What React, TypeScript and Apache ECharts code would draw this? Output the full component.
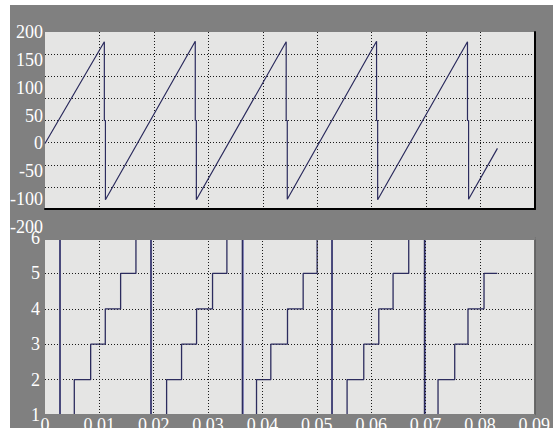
import React, { useEffect, useRef } from "react";
import * as echarts from "echarts";

// ---- data ----
// top panel: phase angle (degrees) – ramps that wrap from about +180 to about -180
const angleStartTime = 0;
const angleStartValue = -52;
const wrapTimes = [0.0109, 0.0276, 0.0443, 0.0609, 0.0776];
const wrapPeaks = [178, 179, 178, 179, 178];
const wrapTroughs = [-179, -179, -178, -179, -178];
const wrapMidValue = 0; // the drop pauses briefly at 0
const wrapGap = 0.0002;
const angleEndTime = 0.0831;
const angleEndValue = -63;

// bottom panel: sector number 1..6
const sectorStartValue = 6;
const sectorResetTimes = [0.00276, 0.0195, 0.0363, 0.0528, 0.0698];
const sectorStepTimes = [
  [0.00539, 0.0084, 0.01109, 0.01391, 0.01673],
  [0.02237, 0.02512, 0.02788, 0.03082, 0.03346],
  [0.03891, 0.04154, 0.04461, 0.04749, 0.05006],
  [0.05557, 0.05864, 0.0614, 0.06403, 0.06691],
  [0.0723, 0.07537, 0.07781, 0.08076],
];
const sectorEndTime = 0.0832;

// tick labels
const xTickLabels = ["0", "0.01", "0.02", "0.03", "0.04", "0.05", "0.06", "0.07", "0.08", "0.09"];
const topTickLabels = ["200", "150", "100", "50", "0", "-50", "-100", "-200"];
const bottomTickLabels = ["1", "2", "3", "4", "5", "6"];

function buildAngle(): number[][] {
  const pts: number[][] = [[angleStartTime, angleStartValue]];
  wrapTimes.forEach((t, i) => {
    pts.push([t, wrapPeaks[i]]);
    pts.push([t, wrapMidValue]);
    pts.push([t + wrapGap, wrapMidValue]);
    pts.push([t + wrapGap, wrapTroughs[i]]);
  });
  pts.push([angleEndTime, angleEndValue]);
  return pts;
}

function buildSector(): number[][] {
  const pts: number[][] = [[0, sectorStartValue]];
  let level = sectorStartValue;
  sectorResetTimes.forEach((r, c) => {
    pts.push([r, level]);
    level = 1;
    pts.push([r, level]);
    sectorStepTimes[c].forEach((s) => {
      pts.push([s, level]);
      level += 1;
      pts.push([s, level]);
    });
  });
  pts.push([sectorEndTime, level]);
  return pts;
}

export default function App() {
  const ref = useRef<HTMLDivElement>(null);
  useEffect(() => {
    if (!ref.current) return;
    const chart = echarts.init(ref.current, null, { renderer: "svg" });
    const font = "'Liberation Serif', 'Times New Roman', 'DejaVu Serif', serif";
    const dotted = { color: "#1a1a1a", width: 1, type: [1, 2] as any };
    const lineColor = "#2c2c5e";
    const panelBg = "#e5e5e4";
    const gray = "#808080";
    const W = 553;
    const H = 437;
    const gridLeft = 45;
    const gridWidth = 490;
    const topTop = 32;
    const panelH = 177;
    const botTop = 238;

    chart.setOption({
      animation: false,
      backgroundColor: gray,
      graphic: [
        { type: "rect", z: 100, shape: { x: 0, y: 0, width: W, height: 5 }, style: { fill: "#ffffff" } },
        { type: "rect", z: 100, shape: { x: 0, y: 0, width: 10, height: H }, style: { fill: "#ffffff" } },
        { type: "rect", z: 100, shape: { x: 0, y: 428, width: W, height: 9 }, style: { fill: "#ffffff" } },
      ],
      grid: [
        { left: gridLeft, top: topTop, width: gridWidth, height: panelH, show: true, backgroundColor: panelBg, borderWidth: 0 },
        { left: gridLeft, top: botTop, width: gridWidth, height: panelH, show: true, backgroundColor: panelBg, borderWidth: 0 },
        { left: gridLeft, top: topTop, width: gridWidth, height: 195, show: false },
      ],
      xAxis: [
        {
          gridIndex: 0, type: "value", min: 0, max: 0.09, interval: 0.01,
          axisLabel: { show: false }, axisTick: { show: false },
          axisLine: { show: true, onZero: false, lineStyle: { color: "#000", width: 2 } },
          splitLine: { show: true, showMinLine: false, showMaxLine: false, lineStyle: dotted },
        },
        {
          gridIndex: 1, type: "value", min: 0, max: 0.09, interval: 0.01, z: 10,
          axisTick: { show: false },
          axisLine: { show: true, onZero: false, lineStyle: { color: gray, width: 3 } },
          splitLine: { show: true, showMinLine: false, showMaxLine: false, lineStyle: dotted },
          axisLabel: {
            show: true, margin: 1, color: "#ffffff", fontFamily: font, fontSize: 18,
            showMinLabel: true, showMaxLabel: true,
            formatter: (v: number) => xTickLabels[Math.round(v / 0.01)] ?? "",
          },
        },
        { gridIndex: 2, type: "value", min: 0, max: 1, show: false },
        {
          gridIndex: 1, type: "value", position: "top", min: 0, max: 0.09, z: 10,
          axisLabel: { show: false }, axisTick: { show: false }, splitLine: { show: false },
          axisLine: { show: true, onZero: false, lineStyle: { color: gray, width: 3 } },
        },
      ],
      yAxis: [
        {
          gridIndex: 0, type: "value", min: -200, max: 200, interval: 50,
          axisLabel: { show: false }, axisTick: { show: false }, axisLine: { show: false, onZero: false },
          splitLine: { show: true, showMinLine: false, showMaxLine: false, lineStyle: dotted },
        },
        {
          gridIndex: 1, type: "value", min: 1, max: 6, interval: 1,
          axisTick: { show: false }, axisLine: { show: false, onZero: false },
          splitLine: { show: true, showMinLine: false, showMaxLine: false, lineStyle: dotted },
          axisLabel: {
            show: true, margin: 5, color: "#ffffff", fontFamily: font, fontSize: 18,
            showMinLabel: true, showMaxLabel: true,
            formatter: (v: number) => bottomTickLabels[Math.round(v) - 1] ?? "",
          },
        },
        {
          gridIndex: 2, type: "category", data: topTickLabels, inverse: true, boundaryGap: false,
          axisTick: { show: false }, axisLine: { show: false, onZero: false }, splitLine: { show: false },
          axisLabel: { show: true, interval: 0, margin: 2, color: "#ffffff", fontFamily: font, fontSize: 18 },
        },
        {
          gridIndex: 0, type: "value", position: "right", min: -200, max: 200,
          axisLabel: { show: false }, axisTick: { show: false }, splitLine: { show: false },
          axisLine: { show: true, onZero: false, lineStyle: { color: "#000", width: 2 } },
        },
        {
          gridIndex: 1, type: "value", position: "right", min: 1, max: 6,
          axisLabel: { show: false }, axisTick: { show: false }, splitLine: { show: false },
          axisLine: { show: true, onZero: false, lineStyle: { color: "#5a5a5a", width: 1.5 } },
        },
      ],
      series: [
        {
          type: "line", xAxisIndex: 0, yAxisIndex: 0, data: buildAngle(),
          showSymbol: false, clip: true,
          lineStyle: { color: lineColor, width: 1.2 },
        },
        {
          type: "line", xAxisIndex: 1, yAxisIndex: 1, data: buildSector(),
          showSymbol: false, clip: true,
          lineStyle: { color: lineColor, width: 1.3 },
        },
        {
          type: "lines", coordinateSystem: "cartesian2d", xAxisIndex: 1, yAxisIndex: 1,
          z: 3,
          data: sectorResetTimes.map((t) => ({ coords: [[t, 1], [t, 6]] })),
          lineStyle: { color: "#8383b6", width: 2, opacity: 1 },
          silent: true,
        },
      ],
    });
    return () => chart.dispose();
  }, []);
  return (
    <div
      ref={ref}
      style={{ position: "absolute", left: 0, top: 0, width: 553, height: 437 }}
    />
  );
}
